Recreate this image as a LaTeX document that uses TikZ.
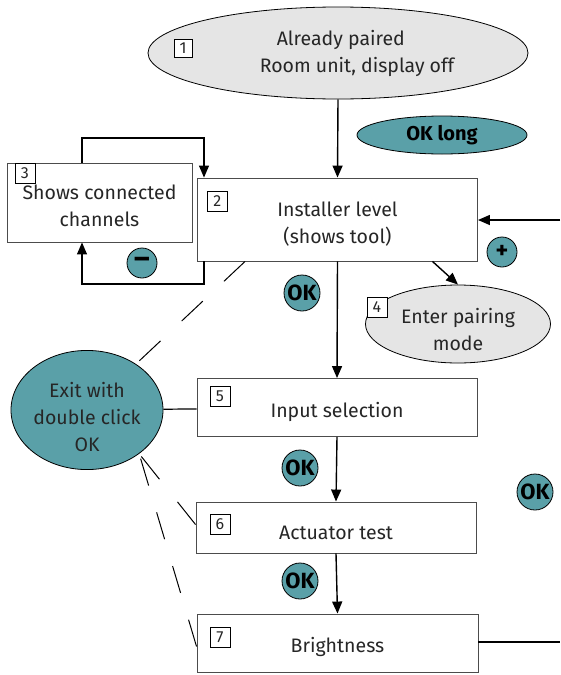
\documentclass[tikz,border=0pt]{standalone}
\usepackage{fontspec}
\setmainfont{Fira Sans}
\usetikzlibrary{arrows.meta,shapes.geometric}
\newcommand{\sink}[1]{\rule{0pt}{#1}}

\begin{document}
\begin{tikzpicture}[x=1pt,y=-1pt,>={Triangle[length=12pt,width=10pt]},
  every node/.style={text=black!85,font=\fontsize{19.5}{27}\selectfont},
  stepbox/.style={draw=black!70,line width=0.9pt,fill=white,align=center,inner sep=0pt},
  grayell/.style={ellipse,draw,line width=0.8pt,fill=cGray,align=center,inner sep=0pt},
  tealell/.style={ellipse,draw,line width=0.8pt,fill=cTeal,align=center,inner sep=0pt},
  numbox/.style={draw,line width=0.8pt,fill=white,minimum size=20pt,inner sep=0pt,
    font=\fontsize{16}{16}\selectfont},
  badge/.style={circle,draw,line width=0.8pt,fill=cTeal,inner sep=0pt,
    font=\fontsize{22}{22}\selectfont\bfseries,text=black},
  flow/.style={->,line width=1.4pt},
  link/.style={line width=1.2pt},
  dashy/.style={line width=1pt,dash pattern=on 29pt off 29pt}]

% colors
\colorlet{cGray}{black!10}
\definecolor{cTeal}{RGB}{90,160,168}

% page
\useasboundingbox (0,0) rectangle (560,675);

% start state
\node[grayell,minimum width=380pt,minimum height=92pt] (paired) at (338,53) {};
\node[align=left] (pairedtxt) at (357,53) {\hspace*{17pt}Already paired\\Room unit, display off};
\node[numbox,minimum size=18pt] (n1) at (183,48) {1};
\node[tealell,minimum width=170pt,minimum height=38pt,
  font=\fontsize{20}{20}\selectfont\bfseries,text=black] (oklong) at (442,135) {OK long};

% menu steps
\node[stepbox,minimum width=280pt,minimum height=83pt] (inst) at (337.5,219.5) {\sink{24pt}Installer level\\(shows tool)};
\node[stepbox,minimum width=185pt,minimum height=79pt] (shows) at (99.5,202.5) {\sink{21pt}Shows connected\\channels};
\node[grayell,minimum width=185pt,minimum height=78pt] (pairing) at (458,324) {\sink{26pt}Enter pairing\\mode};
\node[tealell,minimum width=152pt,minimum height=114pt] (exit) at (87,410) {\sink{30pt}Exit with\\double click\\OK};
\node[stepbox,minimum width=280pt,minimum height=58pt] (input) at (337,407.5) {\sink{24pt}Input selection};
\node[stepbox,minimum width=280pt,minimum height=51pt] (actuator) at (336,527.5) {\sink{24pt}Actuator test};
\node[stepbox,minimum width=281pt,minimum height=58pt] (bright) at (337.5,643) {\sink{24pt}Brightness};

% step numbers
\node[numbox,anchor=north west] (n2) at ([shift={(10pt,-13pt)}]inst.north west) {2};
\node[numbox,anchor=north west] (n3) at ([shift={(8pt,0pt)}]shows.north west) {3};
\node[numbox] (n4) at (377,307) {4};
\node[numbox,anchor=north west] (n5) at ([shift={(13pt,-8pt)}]input.north west) {5};
\node[numbox,anchor=north west] (n6) at ([shift={(14pt,-12pt)}]actuator.north west) {6};
\node[numbox,anchor=north west] (n7) at ([shift={(13pt,-13pt)}]bright.north west) {7};

% buttons
\node[badge,minimum size=36pt] (ok1) at (302,293) {OK};
\node[badge,minimum size=36pt] (ok2) at (300,468) {OK};
\node[badge,minimum size=36pt] (ok3) at (300,581) {OK};
\node[badge,minimum size=36pt] (ok4) at (535,492) {OK};
\node[badge,minimum size=30pt,font=\fontsize{30}{30}\selectfont\bfseries] (minus) at (142,263) {–};
\node[badge,minimum size=30pt,font=\fontsize{24}{24}\selectfont\bfseries] (plus) at (502,252) {+};

% corners and free ends
\coordinate (upL) at (82,138);
\coordinate (upR) at (204,138);
\coordinate (dnL) at (82,284);
\coordinate (dnR) at (204,284);
\coordinate (rightin) at (560,220);
\coordinate (rightout) at (560,642);

% main flow
\draw[flow] (paired.south) -- (inst.north);
\draw[flow] (inst.south) -- (input.north);
\draw[flow] (input.south) -- (actuator.north);
\draw[flow] (actuator.south) -- (bright.north);
\draw[flow] ([xshift=95pt]inst.south) -- (pairing.north);
\draw[flow] (rightin) -- (inst.east |- rightin);
\draw[link] (bright.east |- rightout) -- (rightout);

% loops with channel view
\draw[link,->] (upL |- shows.north) -- (upL) -- (upR) -- (upR |- inst.north);
\draw[link,->] (dnR |- inst.south) -- (dnR) -- (dnL) -- (dnL |- shows.south);

% exit
\draw[link] (exit) -- (input);
\draw[dashy] ([xshift=48pt]inst.south west) -- (exit);
\draw[dashy] ([yshift=-23pt]actuator.north west) -- (exit.-40);
\draw[dashy,dash pattern=on 28pt off 28pt] ([yshift=-33pt]bright.north west) -- (exit.-40);

\end{tikzpicture}
\end{document}
